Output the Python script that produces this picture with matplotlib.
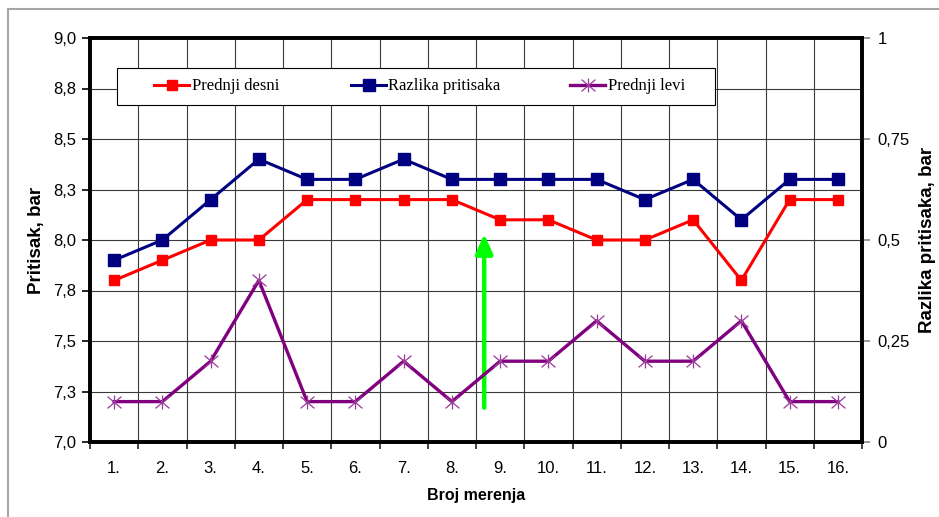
import matplotlib
matplotlib.use("Agg")
import matplotlib.pyplot as plt
from matplotlib.patches import Rectangle, FancyArrowPatch
from matplotlib.path import Path

plt.rcParams["font.family"] = ["Liberation Sans", "DejaVu Sans"]

categories = ["1.", "2.", "3.", "4.", "5.", "6.", "7.", "8.", "9.", "10.", "11.", "12.", "13.", "14.", "15.", "16."]
prednji_desni = [7.8, 7.9, 8.0, 8.0, 8.2, 8.2, 8.2, 8.2, 8.1, 8.1, 8.0, 8.0, 8.1, 7.8, 8.2, 8.2]
razlika_pritisaka = [7.9, 8.0, 8.2, 8.4, 8.3, 8.3, 8.4, 8.3, 8.3, 8.3, 8.3, 8.2, 8.3, 8.1, 8.3, 8.3]
prednji_levi = [0.1, 0.1, 0.2, 0.4, 0.1, 0.1, 0.2, 0.1, 0.2, 0.2, 0.3, 0.2, 0.2, 0.3, 0.1, 0.1]
left_ticks = [7.0, 7.25, 7.5, 7.75, 8.0, 8.25, 8.5, 8.75, 9.0]
left_labels = ["7,0", "7,3", "7,5", "7,8", "8,0", "8,3", "8,5", "8,8", "9,0"]
right_ticks = [0, 0.25, 0.5, 0.75, 1]
right_labels = ["0", "0,25", "0,5", "0,75", "1"]
arrow_x = 8.67
arrow_y = (7.17, 8.03)

W, H = 939, 517
fig = plt.figure(figsize=(W / 100, H / 100), dpi=100)
fig.patch.set_facecolor("white")

# outer gray frame
fig.patches.append(Rectangle((8 / W, -0.1), 1.2, (H - 9) / H + 0.1, transform=fig.transFigure,
                             fill=False, edgecolor="#a6a6a6", linewidth=1.5))

L, R, T, B = 90, 862, 38, 442
ax = fig.add_axes([L / W, (H - B) / H, (R - L) / W, (B - T) / H])
ax2 = ax.twinx()

x = list(range(1, len(categories) + 1))
grid_c = "#3a3a3a"
for yv in left_ticks[1:-1]:
    ax.axhline(yv, color=grid_c, lw=0.8, zorder=0)
for xv in range(1, len(categories)):
    ax.axvline(xv + 0.5, color=grid_c, lw=0.8, zorder=0)

star = Path([(-1, -0.85), (1, 0.85), (-1, 0.85), (1, -0.85), (0, -1), (0, 1)],
            [Path.MOVETO, Path.LINETO, Path.MOVETO, Path.LINETO, Path.MOVETO, Path.LINETO])

ax.plot(x, prednji_desni, color="#ff0000", lw=2.2, marker="s", ms=7.5, zorder=3, label="Prednji desni")
ax.plot(x, razlika_pritisaka, color="#000080", lw=2.2, marker="s", ms=8, zorder=3, label="Razlika pritisaka")
ax2.plot(x, prednji_levi, color="#800080", lw=2.4, marker=star, ms=10, mew=0.9, mec="#9a3a9a",
         zorder=3, label="Prednji levi")

ax.set_xlim(0.5, len(categories) + 0.5)
ax.set_ylim(7.0, 9.0)
ax2.set_ylim(0, 1)

ax.set_yticks(left_ticks)
ax.set_yticklabels(left_labels)
ax2.set_yticks(right_ticks)
ax2.set_yticklabels(right_labels)
ax.set_xticks(x)
ax.set_xticklabels(categories)
ax.set_xticks([v + 0.5 for v in range(0, len(categories) + 1)], minor=True)
ax.tick_params(axis="x", which="major", length=0, pad=14, labelsize=12)
ax.tick_params(axis="x", which="minor", length=5, width=1.2, color="#222222")
ax.tick_params(axis="y", length=6, width=1.2, labelsize=12, pad=4)
ax2.tick_params(axis="y", length=6, width=1.2, labelsize=12, pad=5, color="#888888")

for a in (ax, ax2):
    for s in a.spines.values():
        s.set_linewidth(2.6)
        s.set_color("black")

ax.set_ylabel("Pritisak, bar", fontsize=13.5, fontweight="bold", labelpad=6)
ax2.set_ylabel("Razlika pritisaka, bar", fontsize=13.5, fontweight="bold", labelpad=7)
ax.set_xlabel("Broj merenja", fontsize=11.5, fontweight="bold", labelpad=8)

# green arrow
arr = FancyArrowPatch((arrow_x, arrow_y[0]), (arrow_x, arrow_y[1]), arrowstyle="-|>,head_length=0.9,head_width=0.4",
                      mutation_scale=13, color="#00ff00", lw=3.2, zorder=5, shrinkA=0, shrinkB=0)
ax.add_patch(arr)

# legend box with three entries
fig.patches.append(Rectangle((117 / W, (H - 105) / H), (715 - 117) / W, (105 - 68) / H,
                             transform=fig.transFigure, facecolor="white", edgecolor="black",
                             linewidth=0.8, zorder=8))
h1, l1 = ax.get_legend_handles_labels()
h2, l2 = ax2.get_legend_handles_labels()
starts = [154, 351, 570]
for h, l, sx in zip(h1 + h2, l1 + l2, starts):
    lg = fig.legend([h], [l], loc="center left", bbox_to_anchor=(sx / W, (H - 86.5) / H),
                    frameon=False, borderpad=0, borderaxespad=0,
                    prop={"family": "Liberation Serif", "size": 12},
                    handlelength=2.1, handletextpad=0.15)
    lg.set_zorder(9)

fig.savefig("out.png", dpi=100)
